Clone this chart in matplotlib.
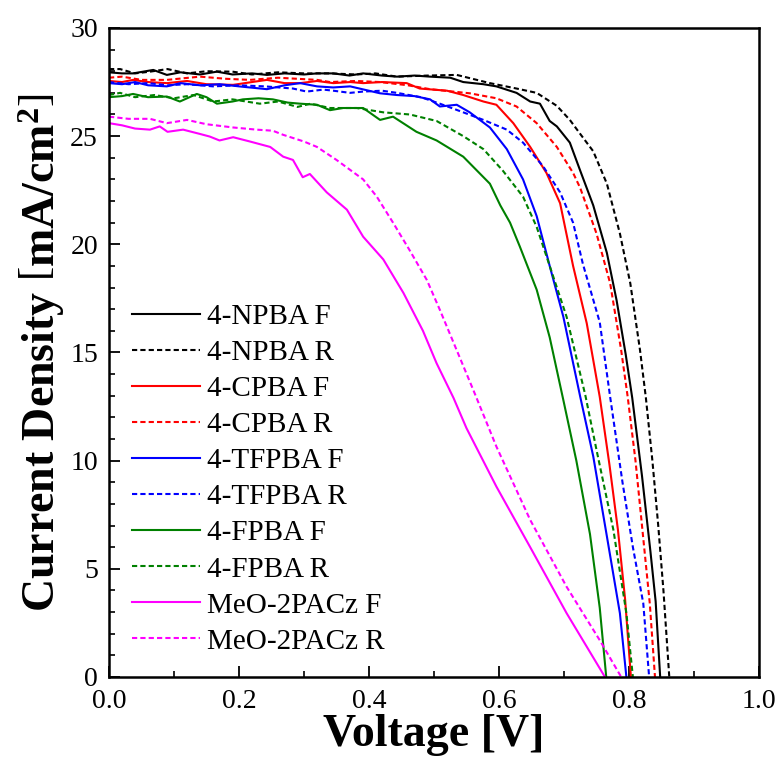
import matplotlib
matplotlib.use("Agg")
import matplotlib.pyplot as plt
from matplotlib.ticker import MultipleLocator

plt.rcParams['font.family'] = ['Liberation Serif', 'DejaVu Serif']
plt.rcParams['mathtext.fontset'] = 'custom'
plt.rcParams['mathtext.rm'] = 'Liberation Serif'
plt.rcParams['mathtext.bf'] = 'Liberation Serif:bold'

# 4-NPBA
npba_f_v = [0, 0.02, 0.037, 0.068, 0.089, 0.11, 0.14, 0.166, 0.19, 0.22, 0.243, 0.27, 0.30, 0.32,
            0.345, 0.37, 0.391, 0.42, 0.443, 0.47, 0.494, 0.525, 0.545, 0.576, 0.596, 0.627, 0.648,
            0.663, 0.678, 0.689, 0.709, 0.725, 0.745, 0.766, 0.781, 0.795, 0.805, 0.82, 0.833, 0.841, 0.848]
npba_f_j = [27.95, 27.9, 27.9, 28.06, 27.83, 27.95, 27.85, 27.98, 27.85, 27.9, 27.83, 27.9, 27.85, 27.9,
            27.9, 27.8, 27.9, 27.8, 27.75, 27.8, 27.75, 27.7, 27.5, 27.4, 27.3, 27.0, 26.6,
            26.5, 25.7, 25.45, 24.7, 23.4, 21.8, 19.6, 17.4, 14.9, 12.9, 9.3, 5.8, 3.5, 0]
npba_r_v = [0, 0.017, 0.04, 0.063, 0.09, 0.12, 0.15, 0.19, 0.22, 0.26, 0.30, 0.34, 0.38, 0.41, 0.443,
            0.49, 0.535, 0.586, 0.627, 0.658, 0.689, 0.709, 0.725, 0.745, 0.766, 0.786, 0.802, 0.817,
            0.826, 0.836, 0.845, 0.853, 0.862]
npba_r_j = [28.1, 28.1, 27.9, 27.98, 28.1, 27.9, 28.0, 27.98, 27.85, 27.95, 27.9, 27.9, 27.85, 27.9, 27.75,
            27.8, 27.83, 27.45, 27.2, 27.0, 26.4, 25.75, 25.1, 24.3, 22.8, 20.5, 18.2, 15.1,
            12.9, 10.0, 7.0, 4.0, 0]

# 4-CPBA
cpba_f_v = [0, 0.02, 0.037, 0.06, 0.089, 0.12, 0.15, 0.191, 0.22, 0.243, 0.27, 0.294, 0.32, 0.345,
            0.371, 0.391, 0.42, 0.458, 0.478, 0.52, 0.545, 0.576, 0.596, 0.622, 0.648, 0.673, 0.694,
            0.714, 0.735, 0.755, 0.770, 0.783, 0.794, 0.803]
cpba_f_j = [27.55, 27.5, 27.6, 27.5, 27.45, 27.55, 27.4, 27.37, 27.5, 27.6, 27.45, 27.45, 27.55, 27.45,
            27.5, 27.45, 27.5, 27.45, 27.2, 27.1, 26.9, 26.6, 26.45, 25.6, 24.5, 23.3, 21.9,
            19.0, 16.35, 12.95, 9.8, 6.8, 3.6, 0]
cpba_r_v = [0, 0.02, 0.05, 0.089, 0.14, 0.18, 0.217, 0.26, 0.32, 0.34, 0.38, 0.417, 0.46, 0.494, 0.555,
            0.596, 0.627, 0.658, 0.689, 0.714, 0.725, 0.750, 0.771, 0.788, 0.798, 0.810, 0.820, 0.832, 0.840]
cpba_r_j = [27.7, 27.75, 27.6, 27.6, 27.75, 27.65, 27.6, 27.7, 27.6, 27.5, 27.55, 27.5, 27.35, 27.17, 26.98,
            26.75, 26.37, 25.6, 24.5, 23.3, 22.6, 20.5, 18.2, 15.1, 12.95, 10.0, 7.0, 3.4, 0]

# 4-TFPBA
tfpba_f_v = [0, 0.02, 0.04, 0.06, 0.089, 0.11, 0.14, 0.17, 0.20, 0.243, 0.27, 0.294, 0.32, 0.345, 0.371,
             0.391, 0.417, 0.443, 0.47, 0.494, 0.509, 0.535, 0.555, 0.586, 0.612, 0.637, 0.658, 0.678,
             0.699, 0.725, 0.745, 0.766, 0.786, 0.796]
tfpba_f_j = [27.45, 27.4, 27.5, 27.35, 27.3, 27.45, 27.35, 27.4, 27.3, 27.17, 27.35, 27.45, 27.3, 27.25, 27.3,
             27.16, 26.98, 26.9, 26.85, 26.7, 26.37, 26.45, 26.1, 25.4, 24.4, 23.0, 21.3, 19.0,
             16.65, 12.95, 10.2, 6.5, 2.95, 0]
tfpba_r_v = [0, 0.03, 0.06, 0.09, 0.12, 0.16, 0.20, 0.24, 0.283, 0.304, 0.33, 0.345, 0.371, 0.391, 0.42,
             0.443, 0.48, 0.509, 0.545, 0.576, 0.612, 0.637, 0.668, 0.694, 0.714, 0.729, 0.755, 0.771,
             0.790, 0.806, 0.822, 0.831]
tfpba_r_j = [27.5, 27.4, 27.45, 27.35, 27.4, 27.3, 27.35, 27.3, 27.2, 27.06, 27.15, 27.1, 27.0, 27.06, 27.1,
             27.0, 26.8, 26.5, 26.1, 25.75, 25.3, 24.7, 23.6, 22.4, 21.0, 19.1, 16.4, 12.95,
             9.0, 6.0, 3.4, 0]

# 4-FPBA
fpba_f_v = [0, 0.02, 0.037, 0.06, 0.089, 0.109, 0.135, 0.15, 0.166, 0.19, 0.206, 0.23, 0.252, 0.275,
            0.294, 0.32, 0.34, 0.36, 0.391, 0.417, 0.437, 0.473, 0.504, 0.545, 0.586, 0.602, 0.617,
            0.632, 0.658, 0.678, 0.699, 0.719, 0.740, 0.755, 0.765]
fpba_f_j = [26.8, 26.85, 26.95, 26.8, 26.83, 26.6, 26.95, 26.8, 26.5, 26.6, 26.7, 26.75, 26.7, 26.55,
            26.5, 26.45, 26.2, 26.3, 26.3, 25.75, 25.9, 25.2, 24.8, 24.05, 22.8, 21.8, 21.0,
            19.9, 17.9, 15.7, 12.8, 10.0, 6.6, 3.2, 0]
fpba_r_v = [0, 0.017, 0.04, 0.07, 0.10, 0.13, 0.16, 0.19, 0.232, 0.26, 0.29, 0.31, 0.34, 0.381, 0.422,
            0.463, 0.504, 0.545, 0.576, 0.606, 0.637, 0.658, 0.678, 0.704, 0.733, 0.750, 0.776, 0.796, 0.806]
fpba_r_j = [26.9, 27.0, 26.8, 26.9, 26.75, 26.9, 26.6, 26.7, 26.5, 26.6, 26.35, 26.5, 26.3, 26.3, 26.1,
            26.0, 25.7, 25.0, 24.4, 23.4, 22.2, 20.8, 19.0, 16.65, 13.0, 10.5, 6.8, 2.95, 0]

# MeO-2PACz
meo_f_v = [0, 0.02, 0.04, 0.063, 0.078, 0.09, 0.114, 0.14, 0.155, 0.17, 0.191, 0.217, 0.248, 0.268,
           0.283, 0.298, 0.309, 0.335, 0.366, 0.391, 0.422, 0.453, 0.483, 0.504, 0.53, 0.55, 0.596,
           0.648, 0.704, 0.763]
meo_f_j = [25.6, 25.5, 25.35, 25.3, 25.45, 25.2, 25.3, 25.1, 24.98, 24.8, 24.95, 24.75, 24.5, 24.05,
           23.9, 23.1, 23.25, 22.4, 21.6, 20.35, 19.3, 17.75, 16.0, 14.5, 12.9, 11.5, 8.8,
           6.0, 2.95, 0]
meo_r_v = [0, 0.03, 0.063, 0.089, 0.12, 0.15, 0.191, 0.227, 0.252, 0.268, 0.30, 0.32, 0.35, 0.391, 0.412,
           0.437, 0.463, 0.489, 0.509, 0.535, 0.56, 0.596, 0.648, 0.704, 0.755, 0.788]
meo_r_j = [25.9, 25.8, 25.8, 25.6, 25.75, 25.55, 25.4, 25.3, 25.25, 25.06, 24.75, 24.5, 23.9, 23.0, 22.2,
           21.0, 19.7, 18.35, 16.97, 15.1, 13.3, 10.65, 7.26, 4.17, 1.7, 0]

labels = ['4-NPBA F', '4-NPBA R', '4-CPBA F', '4-CPBA R', '4-TFPBA F', '4-TFPBA R',
          '4-FPBA F', '4-FPBA R', 'MeO-2PACz F', 'MeO-2PACz R']
series = [(npba_f_v, npba_f_j), (npba_r_v, npba_r_j), (cpba_f_v, cpba_f_j), (cpba_r_v, cpba_r_j),
          (tfpba_f_v, tfpba_f_j), (tfpba_r_v, tfpba_r_j), (fpba_f_v, fpba_f_j), (fpba_r_v, fpba_r_j),
          (meo_f_v, meo_f_j), (meo_r_v, meo_r_j)]
colors = ['#000000', '#000000', '#ff0000', '#ff0000', '#0000ff', '#0000ff',
          '#008000', '#008000', '#ff00ff', '#ff00ff']

fig = plt.figure(figsize=(7.81, 7.64), dpi=100)
ax = fig.add_axes([0.1396, 0.1139, 0.8322, 0.8495])

for i, (v, j) in enumerate(series):
    ls = '-' if i % 2 == 0 else (0, (2.5, 1.5))
    ax.plot(v, j, color=colors[i], linestyle=ls, lw=1.5, label=labels[i])

ax.set_xlim(0, 1.0)
ax.set_ylim(0, 30)
ax.xaxis.set_major_locator(MultipleLocator(0.2))
ax.xaxis.set_minor_locator(MultipleLocator(0.1))
ax.yaxis.set_major_locator(MultipleLocator(5))
ax.yaxis.set_minor_locator(MultipleLocator(1))
ax.xaxis.set_major_formatter(plt.FormatStrFormatter('%.1f'))
ax.tick_params(which='major', direction='in', length=8, width=1.3, labelsize=20)
ax.tick_params(axis='x', which='major', pad=9)
ax.tick_params(axis='y', which='major', pad=8)
ax.tick_params(which='minor', direction='in', length=4, width=1.2)
for sp in ax.spines.values():
    sp.set_linewidth(1.8)

ax.set_xlabel('Voltage [V]', fontsize=33, fontweight='bold', labelpad=0)
ax.set_ylabel(r'Current Density $\left[\mathbf{mA/cm^2}\right]$', fontsize=33,
              fontweight='bold', labelpad=2)

ax.legend(loc='upper left', bbox_to_anchor=(0.036, 0.575), frameon=False, fontsize=21,
          handlelength=2.3, handletextpad=0.25, labelspacing=0.33, borderpad=0, borderaxespad=0)

fig.savefig('out.png', dpi=100)
